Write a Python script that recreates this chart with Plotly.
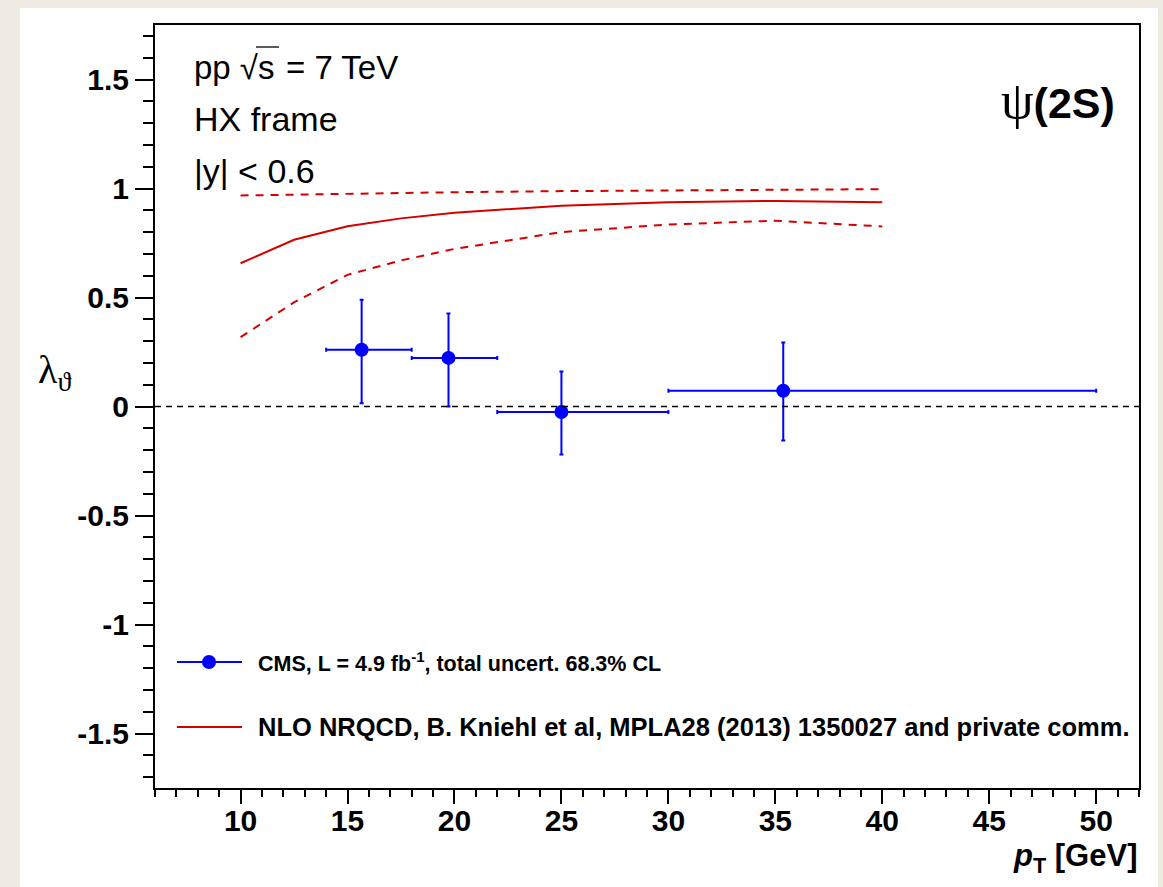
import plotly.graph_objects as go

# CMS psi(2S) polarization, lambda_theta vs pT (HX frame)
pt = [15.66, 19.72, 25.0, 35.37]
pt_lo = [14.0, 18.0, 22.0, 30.0]
pt_hi = [18.0, 22.0, 30.0, 50.0]
lam = [0.260, 0.223, -0.025, 0.072]
lam_up = [0.490, 0.427, 0.160, 0.294]
lam_dn = [0.015, 0.000, -0.220, -0.156]

# NLO NRQCD prediction (central value and band edges)
th_pt = [10, 12.5, 15, 17.5, 20, 25, 30, 35, 40]
th_mid = [0.657, 0.765, 0.827, 0.863, 0.889, 0.921, 0.937, 0.943, 0.937]
th_hi = [0.968, 0.972, 0.976, 0.980, 0.983, 0.988, 0.991, 0.994, 0.997]
th_lo = [0.318, 0.478, 0.604, 0.670, 0.723, 0.800, 0.835, 0.852, 0.826]

y_ticks = [-1.5, -1.0, -0.5, 0.0, 0.5, 1.0, 1.5]
y_labels = ["-1.5", "-1", "-0.5", "0", "0.5", "1", "1.5"]
x_ticks = [10, 15, 20, 25, 30, 35, 40, 45, 50]
x_labels = ["10", "15", "20", "25", "30", "35", "40", "45", "50"]

W, H = 1163, 887
L, R, T, B = 155, 1139, 25, 788
PW, PH = R - L, B - T


def px(x):
    return (x - L) / PW


def py(y):
    return (B - y) / PH


SANS = "Liberation Sans, Arial, Helvetica, sans-serif"
SERIF = "Liberation Serif, Times New Roman, serif"
BLUE = "#0000ff"
RED = "#d40000"

fig = go.Figure()

# theory band edges (dashed) and central curve
for band in (th_hi, th_lo):
    fig.add_trace(go.Scatter(x=th_pt, y=band, mode="lines",
                             line=dict(color=RED, width=2, dash="8px,7px"),
                             showlegend=False, hoverinfo="skip"))
fig.add_trace(go.Scatter(x=th_pt, y=th_mid, mode="lines",
                         line=dict(color=RED, width=2),
                         showlegend=False, hoverinfo="skip"))

# data points with total uncertainties
fig.add_trace(go.Scatter(
    x=pt, y=lam, mode="markers",
    marker=dict(color=BLUE, size=14, symbol="circle"),
    error_x=dict(type="data", symmetric=False,
                 array=[h - x for h, x in zip(pt_hi, pt)],
                 arrayminus=[x - l for l, x in zip(pt_lo, pt)],
                 color=BLUE, thickness=2, width=2),
    error_y=dict(type="data", symmetric=False,
                 array=[u - v for u, v in zip(lam_up, lam)],
                 arrayminus=[v - d for d, v in zip(lam_dn, lam)],
                 color=BLUE, thickness=2, width=2),
    showlegend=False, hoverinfo="skip"))

shapes = [
    # white canvas behind the frame
    dict(type="rect", xref="paper", yref="paper", layer="below",
         x0=px(20), x1=px(1158), y0=py(892), y1=py(8),
         fillcolor="white", line=dict(width=0)),
    # lambda = 0 reference line
    dict(type="line", xref="paper", yref="y", x0=0, x1=1, y0=0, y1=0,
         line=dict(color="black", width=1.5, dash="6px,5px")),
    # sqrt overline
    dict(type="line", xref="paper", yref="paper",
         x0=px(256), x1=px(279), y0=py(47), y1=py(47),
         line=dict(color="black", width=1.3)),
    # legend samples
    dict(type="line", xref="paper", yref="paper",
         x0=px(177), x1=px(242), y0=py(662), y1=py(662),
         line=dict(color=BLUE, width=2)),
    dict(type="circle", xref="paper", yref="paper",
         x0=px(202), x1=px(216), y0=py(669), y1=py(655),
         fillcolor=BLUE, line=dict(color=BLUE, width=0)),
    dict(type="line", xref="paper", yref="paper",
         x0=px(177), x1=px(242), y0=py(727), y1=py(727),
         line=dict(color=RED, width=2)),
]

ann = []


def text(x, y, s, size, xanchor="left", family=SANS, bold=False):
    ann.append(dict(xref="paper", yref="paper", x=px(x), y=py(y), text=s,
                    showarrow=False, xanchor=xanchor, yanchor="middle",
                    font=dict(family=family, size=size, color="black",
                              weight="bold" if bold else "normal")))


# header: pp sqrt(s) = 7 TeV, split so the overline sits on the "s"
text(192, 67, "pp √", 33)
text(256, 67, "s", 33)
text(284, 67, "= 7 TeV", 33)
text(192, 119, "HX frame", 34)
text(192, 171, "|y| &lt; 0.6", 34)
text(1117, 100,
     "<span style='font-family:Liberation Serif;font-weight:normal;font-size:52px'>ψ</span>(2S)",
     43, xanchor="right", bold=True)
text(256, 662, "CMS, L = 4.9 fb<sup>-1</sup>, total uncert. 68.3% CL", 21.5, bold=True)
text(256, 727, "NLO NRQCD, B. Kniehl et al, MPLA28 (2013) 1350027 and private comm.",
     25.5, bold=True)
text(1139, 858, "<i>p</i><sub>T</sub> [GeV]", 31, xanchor="right", bold=True)
text(36, 372, "λ<sub>ϑ</sub>", 40, family=SERIF)

fig.update_layout(
    width=W, height=H,
    margin=dict(l=L, r=W - R, t=T, b=H - B, pad=0),
    paper_bgcolor="#eeebe3", plot_bgcolor="white",
    shapes=shapes, annotations=ann, showlegend=False,
)
fig.update_xaxes(
    range=[6, 52], showgrid=False, zeroline=False,
    showline=True, linecolor="black", linewidth=2, mirror=True,
    ticks="outside", ticklen=14, tickwidth=1.5, tickcolor="black",
    tickvals=x_ticks, ticktext=x_labels, ticklabelstandoff=-9,
    tickfont=dict(family=SANS, size=30, color="black", weight="bold"),
    minor=dict(dtick=1, tick0=0, ticks="outside", ticklen=7,
               tickwidth=1.5, tickcolor="black"),
)
fig.update_yaxes(
    range=[-1.75, 1.75], showgrid=False, zeroline=False,
    showline=True, linecolor="black", linewidth=2, mirror=True,
    ticks="outside", ticklen=18, tickwidth=1.5, tickcolor="black",
    tickvals=y_ticks, ticktext=y_labels,
    tickfont=dict(family=SANS, size=30, color="black", weight="bold"),
    minor=dict(dtick=0.1, tick0=0, ticks="outside", ticklen=10,
               tickwidth=1.5, tickcolor="black"),
)

fig.write_html("out.html")
